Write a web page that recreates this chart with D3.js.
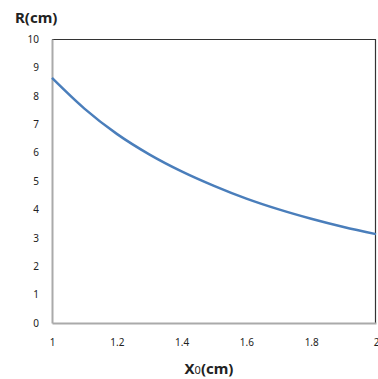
<!DOCTYPE html>
<html>
<head>
<meta charset="utf-8">
<script src="https://cdn.jsdelivr.net/npm/d3@7"></script>
<style>
  body { margin: 0; background: #fff; }
  .tick text { font-family: "Noto Sans", sans-serif; font-size: 10px; fill: #222; }
</style>
</head>
<body>
<script>
  // values
  var x0Values = [1.0, 1.1, 1.2, 1.3, 1.4, 1.5, 1.6, 1.7, 1.8, 1.9, 2.0];
  var rValues = [8.63, 7.55, 6.66, 5.94, 5.34, 4.83, 4.38, 4.0, 3.67, 3.38, 3.13];
  var xTicks = [1, 1.2, 1.4, 1.6, 1.8, 2];
  var yTicks = [0, 1, 2, 3, 4, 5, 6, 7, 8, 9, 10];

  var margin = {top: 39, right: 2, bottom: 56, left: 52},
      width = 378 - margin.left - margin.right,
      height = 379 - margin.top - margin.bottom;

  var xScale = d3.scaleLinear().domain([1, 2]).range([0, width]);
  var yScale = d3.scaleLinear().domain([0, 10]).range([height, 0]);

  var svg = d3.select("body").append("svg")
      .attr("width", 378)
      .attr("height", 379);

  var g = svg.append("g")
      .attr("transform", "translate(" + margin.left + "," + margin.top + ")");

  // top and right frame
  g.append("path")
      .attr("d", "M0,0.5H" + (width - 0.5) + "V" + height)
      .attr("fill", "none")
      .attr("stroke", "#333")
      .attr("stroke-width", 1.2);

  // axis-x
  var xAxis = g.append("g")
      .attr("transform", "translate(0," + height + ")")
      .call(d3.axisBottom(xScale).tickValues(xTicks).tickSize(0).tickPadding(16)
        .tickFormat(function(d) { return d3.format("~g")(d); }));
  xAxis.select(".domain").attr("stroke", "#aaa").attr("stroke-width", 2);

  // axis-y
  var yAxis = g.append("g")
      .call(d3.axisLeft(yScale).tickValues(yTicks).tickSize(0).tickPadding(13));
  yAxis.select(".domain").attr("stroke", "#aaa").attr("stroke-width", 2);

  // the curve
  var line = d3.line()
      .x(function(d, i) { return xScale(x0Values[i]); })
      .y(function(d) { return yScale(d); })
      .curve(d3.curveMonotoneX);

  g.append("path")
      .attr("d", line(rValues))
      .attr("fill", "none")
      .attr("stroke", "#4a7ebb")
      .attr("stroke-width", 2.5);

  // titles
  svg.append("text")
      .attr("x", 15)
      .attr("y", 23)
      .attr("font-family", "Noto Sans, sans-serif")
      .attr("font-size", "15px")
      .attr("font-weight", "bold")
      .attr("fill", "#222")
      .text("R(cm)");

  var xt = svg.append("text")
      .attr("x", 209)
      .attr("y", 374)
      .attr("text-anchor", "middle")
      .attr("font-family", "Noto Sans, sans-serif")
      .attr("font-size", "15px")
      .attr("font-weight", "bold")
      .attr("fill", "#222");
  xt.append("tspan").text("X");
  xt.append("tspan").attr("font-size", "11px").attr("font-weight", "normal").text("0");
  xt.append("tspan").text("(cm)");
</script>
</body>
</html>
